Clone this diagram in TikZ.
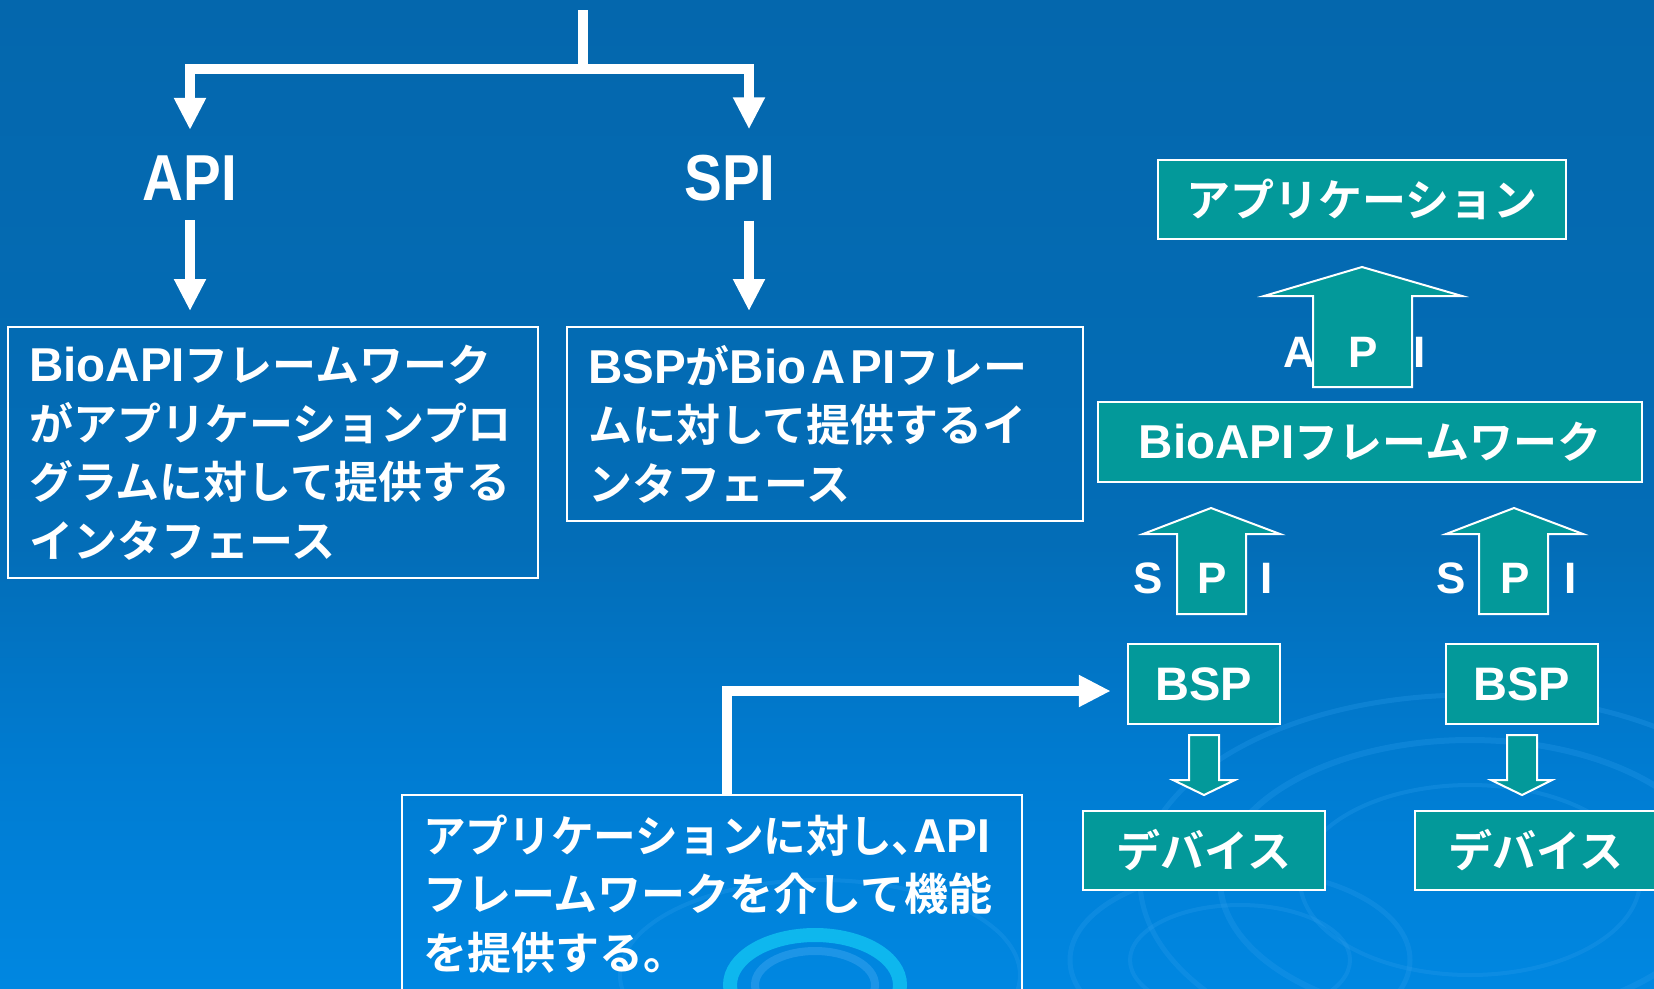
\documentclass[tikz,border=0pt]{standalone}
\usepackage{fontspec}
\setmainfont{Liberation Sans}
\newfontfamily\jp{Noto Sans CJK JP Bold}
\newfontfamily\lat{Liberation Sans}[Scale=1.08]
\newcommand\LT[1]{{\lat\bfseries #1}}
\usetikzlibrary{arrows.meta,calc}
\definecolor{bgtop}{HTML}{0467AD}
\definecolor{bgmid}{HTML}{036DB7}
\definecolor{bglow}{HTML}{007CD2}
\definecolor{bgbot}{HTML}{0087E1}
\definecolor{tealx}{HTML}{03999A}
\definecolor{ripple}{HTML}{2A9CEB}
\definecolor{ripcyan}{HTML}{12C4F2}
\pgfdeclareverticalshading{bgshade}{100bp}{color(0bp)=(bgbot); color(25bp)=(bgbot); color(36bp)=(bglow); color(47.5bp)=(bgmid); color(75bp)=(bgtop); color(100bp)=(bgtop)}
\tikzset{
  wline/.style={draw=white, line width=10pt},
  warrow/.style={draw=white, line width=10pt, -{Triangle[width=30pt,length=32pt]}},
  txtbox/.style={draw=white, line width=2pt, inner sep=0pt},
  jtext/.style={text=white, inner sep=0pt, align=left, font=\jp\fontsize{44}{58.5}\selectfont},
  tealbox/.style={draw=white, line width=2.5pt, fill=tealx, text=white, inner sep=0pt, font=\jp\fontsize{44}{44}\selectfont},
  blockarrow/.style={draw=white, line width=2pt, fill=tealx, line join=miter},
  biglabel/.style={text=white, inner sep=0pt, font=\bfseries\fontsize{65}{65}\selectfont},
  letter/.style={text=white, inner sep=0pt, font=\bfseries\fontsize{44}{44}\selectfont},
}
\begin{document}
\begin{tikzpicture}[x=1pt,y=-1pt]
\useasboundingbox (0,0) rectangle (1654,988);
\clip (0,0) rectangle (1654,988);
\shade[shading=bgshade] (0,0) rectangle (1654,988);
% ripples
\begin{scope}[opacity=0.3]
  \draw[ripple, line width=6pt] (1470,880) ellipse (250 and 140);
  \draw[ripple, line width=5pt] (1470,880) ellipse (330 and 185);
  \draw[ripple, line width=4pt] (1470,880) ellipse (170 and 95);
  \draw[ripple, line width=5pt] (1240,960) ellipse (170 and 90);
  \draw[ripple, line width=4pt] (1240,960) ellipse (110 and 55);
  \draw[ripple, line width=4pt] (820,975) ellipse (200 and 95);
\end{scope}
\draw[ripcyan, line width=14pt, opacity=0.8] (815,985) ellipse (85 and 50);
\draw[ripple, line width=8pt, opacity=0.7] (815,985) ellipse (60 and 34);

% top connectors
\coordinate (top) at (583,10);
\coordinate (j) at (583,69);
\coordinate (ax) at (190,0);
\coordinate (sx) at (749,0);
\coordinate (bx) at (727,0);

\node[biglabel] (api) at (190,178.5) {\scalebox{0.87}[1]{API}};
\node[biglabel] (spi) at (730,178.5) {\scalebox{0.87}[1]{SPI}};

\draw[wline] (top) -- (j);
\draw[warrow, shorten >=26pt] (j) -| (api.north -| ax);
\draw[warrow, shorten >=26pt] (j) -| (spi.north -| sx);

% description boxes
\node[txtbox, minimum width=530pt, minimum height=251pt] (b1) at (273,452.5) {};
\node[jtext, anchor=west] (b1t) at ([xshift=22pt]b1.west) {\LT{BioAPI}フレームワーク\\がアプリケーションプロ\\グラムに対して提供する\\インタフェース};

\node[txtbox, minimum width=516pt, minimum height=194pt] (b2) at (825,424) {};
\node[jtext, anchor=west] (b2t) at ([xshift=22pt]b2.west) {\LT{BSP}が\LT{Bio}Ａ\LT{PI}フレー\\ムに対して提供するイ\\ンタフェース};

\node[txtbox, minimum width=620pt, minimum height=198pt] (b3) at (712,894) {};
\node[jtext, anchor=west] (b3t) at ([xshift=22pt]b3.west) {\scalebox{0.97}[1]{アプリケーションに対し\makebox[0.5em][l]{、}\LT{API}}\\フレームワークを介して機能\\を提供する。};

\draw[warrow, shorten <=19pt, shorten >=15pt] (api.south -| ax) -- (b1.north -| ax);
\draw[warrow, shorten <=19pt, shorten >=15pt] (spi.south -| sx) -- (b2.north -| sx);

% right-hand stack
\node[tealbox, minimum width=408pt, minimum height=79pt] (app) at (1362,199.5) {アプリケーション};
\node[tealbox, minimum width=544pt, minimum height=80pt] (fw) at (1370,442) {\LT{BioAPI}フレームワーク};
\node[tealbox, minimum width=152pt, minimum height=80pt, font=\bfseries\fontsize{47}{47}\selectfont] (bsp1) at (1204,684) {BSP};
\node[tealbox, minimum width=152pt, minimum height=80pt, font=\bfseries\fontsize{47}{47}\selectfont] (bsp2) at (1522,684) {BSP};
\node[tealbox, minimum width=242pt, minimum height=79pt] (dev1) at (1204,850.5) {デバイス};
\node[tealbox, minimum width=242pt, minimum height=79pt] (dev2) at (1536,850.5) {デバイス};

% API block arrow (up)
\draw[blockarrow] (1313,387) -- (1313,296) -- (1264,296) -- (1362,267) -- (1462,296) -- (1412,296) -- (1412,387) -- cycle;
\node[letter] (la) at (1299,352) {A};
\node[letter] (lp) at (1363,352) {P};
\node[letter] (li) at (1420,352) {I};

% SPI block arrows (up)
\draw[blockarrow] (1177,614) -- (1177,534) -- (1143,534) -- (1211,508) -- (1280,534) -- (1246,534) -- (1246,614) -- cycle;
\node[letter] (s1s) at (1148,578) {S};
\node[letter] (s1p) at (1212,578) {P};
\node[letter] (s1i) at (1267,578) {I};
\draw[blockarrow] (1479,614) -- (1479,534) -- (1446,534) -- (1514,508) -- (1583,534) -- (1548,534) -- (1548,614) -- cycle;
\node[letter] (s2s) at (1451,578) {S};
\node[letter] (s2p) at (1515,578) {P};
\node[letter] (s2i) at (1571,578) {I};

% down block arrows
\draw[blockarrow] (1189,735) -- (1219,735) -- (1219,780) -- (1235,780) -- (1204,795) -- (1173,780) -- (1189,780) -- cycle;
\draw[blockarrow] (1507,735) -- (1537,735) -- (1537,780) -- (1552,780) -- (1522,795) -- (1491,780) -- (1507,780) -- cycle;

% bent arrow from bottom box to BSP
\draw[warrow, shorten >=16pt] (b3.north -| bx) |- ([yshift=-7pt]bsp1.west);
\end{tikzpicture}
\end{document}
